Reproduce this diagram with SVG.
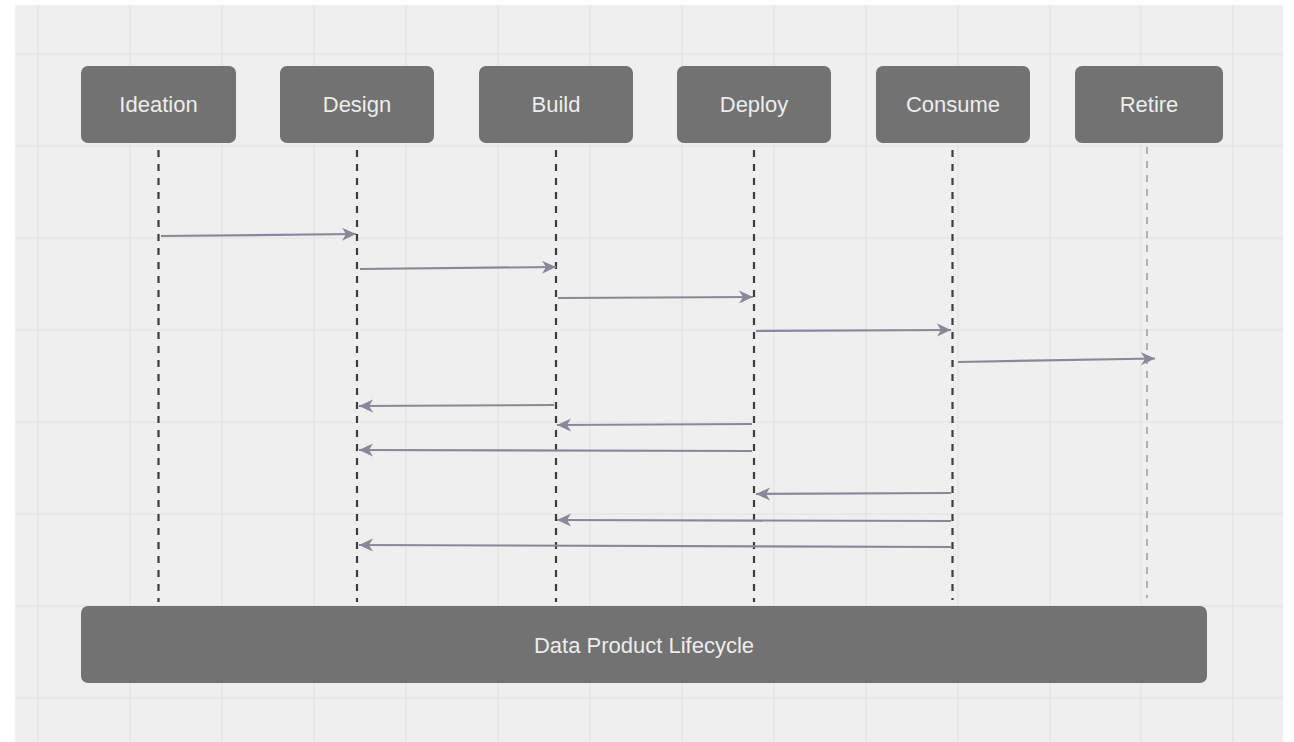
<svg xmlns="http://www.w3.org/2000/svg" width="1294" height="742" viewBox="0 0 1294 742">
  <style>
    .node rect { fill: #727272; }
    .node text, .bar text { fill: #ededed; font-family: "Liberation Sans", Arial, sans-serif; font-size: 22px; text-anchor: middle; dominant-baseline: central; }
    .grid line { stroke: #e1e1e1; stroke-width: 1; }
    .life { stroke: #3d3d3d; stroke-width: 2.2; stroke-dasharray: 7 7; fill: none; }
    .life.light { stroke: #9c9c9c; stroke-width: 1.5; }
    .msg { stroke: #8a8898; stroke-width: 2.2; fill: none; marker-end: url(#arrow); }
  </style>
  <defs>
    <marker id="arrow" markerUnits="userSpaceOnUse" markerWidth="16" markerHeight="16" refX="14" refY="7" orient="auto">
      <path d="M0,0.5 L14,7 L0,13.5 L4,7 z" fill="#8a8898"/>
    </marker>
  </defs>
  <rect x="0" y="0" width="1294" height="742" fill="#ffffff"/>
  <rect x="15" y="5" width="1268" height="737" fill="#efefef"/>
  <g class="grid">
    <line x1="38" y1="5" x2="38" y2="742"/>
    <line x1="130" y1="5" x2="130" y2="742"/>
    <line x1="222" y1="5" x2="222" y2="742"/>
    <line x1="314" y1="5" x2="314" y2="742"/>
    <line x1="406" y1="5" x2="406" y2="742"/>
    <line x1="498" y1="5" x2="498" y2="742"/>
    <line x1="590" y1="5" x2="590" y2="742"/>
    <line x1="682" y1="5" x2="682" y2="742"/>
    <line x1="774" y1="5" x2="774" y2="742"/>
    <line x1="866" y1="5" x2="866" y2="742"/>
    <line x1="958" y1="5" x2="958" y2="742"/>
    <line x1="1050" y1="5" x2="1050" y2="742"/>
    <line x1="1141" y1="5" x2="1141" y2="742"/>
    <line x1="1233" y1="5" x2="1233" y2="742"/>
    <line x1="15" y1="54" x2="1283" y2="54"/>
    <line x1="15" y1="146" x2="1283" y2="146"/>
    <line x1="15" y1="238" x2="1283" y2="238"/>
    <line x1="15" y1="330" x2="1283" y2="330"/>
    <line x1="15" y1="422" x2="1283" y2="422"/>
    <line x1="15" y1="514" x2="1283" y2="514"/>
    <line x1="15" y1="606" x2="1283" y2="606"/>
    <line x1="15" y1="698" x2="1283" y2="698"/>
  </g>
  <g id="lifelines">
    <line class="life" x1="158.5" y1="150" x2="158.5" y2="602"/>
    <line class="life" x1="357" y1="150" x2="357" y2="602"/>
    <line class="life" x1="556" y1="150" x2="556" y2="602"/>
    <line class="life" x1="754" y1="150" x2="754" y2="602"/>
    <line class="life" x1="952.5" y1="150" x2="952.5" y2="600"/>
    <line class="life light" x1="1147" y1="147" x2="1147" y2="598"/>
  </g>
  <g id="connectors">
    <line class="msg" x1="161" y1="236" x2="356" y2="234"/>
    <line class="msg" x1="360" y1="269" x2="556" y2="267"/>
    <line class="msg" x1="558" y1="298" x2="753" y2="297"/>
    <line class="msg" x1="756" y1="331" x2="951" y2="330"/>
    <line class="msg" x1="958" y1="362" x2="1155" y2="358.5"/>
    <line class="msg" x1="554" y1="405" x2="359" y2="406"/>
    <line class="msg" x1="752" y1="424" x2="557" y2="425"/>
    <line class="msg" x1="752" y1="451" x2="359" y2="450"/>
    <line class="msg" x1="951" y1="493" x2="756" y2="494"/>
    <line class="msg" x1="951" y1="521" x2="557" y2="520"/>
    <line class="msg" x1="951" y1="547" x2="359" y2="545"/>
  </g>
  <g id="node-ideation" class="node">
    <rect x="81" y="66" width="155" height="77" rx="7"/>
    <text x="158.5" y="104.5">Ideation</text>
  </g>
  <g id="node-design" class="node">
    <rect x="280" y="66" width="154" height="77" rx="7"/>
    <text x="357" y="104.5">Design</text>
  </g>
  <g id="node-build" class="node">
    <rect x="479" y="66" width="154" height="77" rx="7"/>
    <text x="556" y="104.5">Build</text>
  </g>
  <g id="node-deploy" class="node">
    <rect x="677" y="66" width="154" height="77" rx="7"/>
    <text x="754" y="104.5">Deploy</text>
  </g>
  <g id="node-consume" class="node">
    <rect x="876" y="66" width="154" height="77" rx="7"/>
    <text x="953" y="104.5">Consume</text>
  </g>
  <g id="node-retire" class="node">
    <rect x="1075" y="66" width="148" height="77" rx="7"/>
    <text x="1149" y="104.5">Retire</text>
  </g>
  <g id="node-lifecycle" class="bar">
    <rect x="81" y="606" width="1126" height="77" rx="7" fill="#727272"/>
    <text x="644" y="645">Data Product Lifecycle</text>
  </g>
</svg>
